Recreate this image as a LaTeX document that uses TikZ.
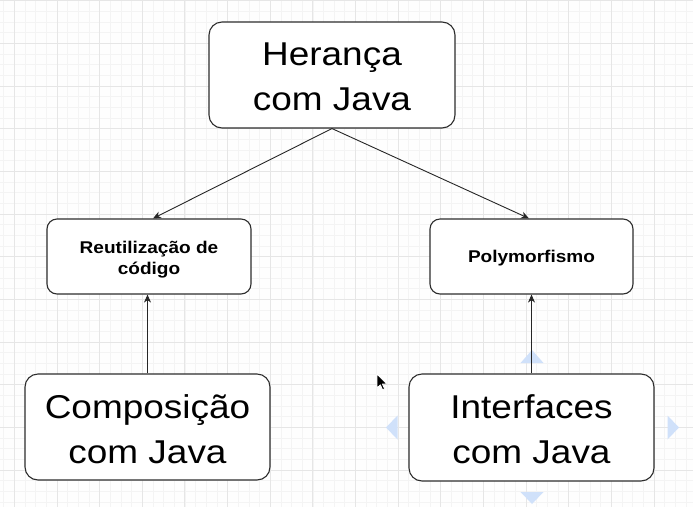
\documentclass[tikz,border=0pt]{standalone}
\usepackage{fontspec}
\setmainfont{Liberation Sans}[FakeStretch=1.12]
\usetikzlibrary{arrows.meta,calc}
\definecolor{minorgrid}{RGB}{244,244,244}
\definecolor{majorgrid}{RGB}{230,230,230}
\definecolor{hintblue}{RGB}{208,225,250}
\definecolor{boxline}{RGB}{45,45,45}
\begin{document}
\begin{tikzpicture}[x=1pt,y=-1pt,
  box/.style={draw=boxline, line width=1.1pt, fill=white, inner sep=0pt},
  bigbox/.style={box, rounded corners=13pt, minimum width=245pt, minimum height=106pt},
  smallbox/.style={box, rounded corners=10pt, minimum width=204pt, minimum height=75pt},
  label/.style={align=center, inner sep=0pt, text=black},
  bigtext/.style={label, font=\fontsize{33}{45}\selectfont},
  smalltext/.style={label, font=\bfseries\fontsize{17}{21.5}\selectfont},
  link/.style={draw=black!85, line width=0.9pt, -{Stealth[length=8pt,width=7pt,inset=2.5pt]}},
  hint/.style={fill=hintblue},
  minorline/.style={draw=minorgrid, line width=0.7pt},
  majorline/.style={draw=majorgrid, line width=0.9pt}]
% background and bounding box
\fill[white!99!gray] (0,0) rectangle (693,507);
\useasboundingbox (0,0) rectangle (693,507);
% grid
\foreach \k in {-1,...,64} {
  \draw[minorline] ({14.3+10.6625*\k},0) -- ({14.3+10.6625*\k},507);
}
\foreach \k in {0,...,47} {
  \draw[minorline] (0,{0.8+10.6625*\k}) -- (693,{0.8+10.6625*\k});
}
\foreach \k in {0,...,16} {
  \draw[majorline] ({14.3+42.65*\k},0) -- ({14.3+42.65*\k},507);
}
\foreach \k in {0,...,11} {
  \draw[majorline] (0,{0.8+42.65*\k}) -- (693,{0.8+42.65*\k});
}
% boxes
\node[bigbox, minimum width=246pt] (her) at (332,75) {};
\node[smallbox] (reu) at (149,256.5) {};
\node[smallbox, minimum width=203pt] (pol) at (531.5,256.5) {};
\node[bigbox] (com) at (147.5,427) {};
% hover hints around Interfaces
\fill[hint] (532,350) -- (520.5,363) -- (543.5,363) -- cycle;
\fill[hint] (386,427.5) -- (397.5,415.5) -- (397.5,439.5) -- cycle;
\fill[hint] (679,427.5) -- (667.5,415.5) -- (667.5,439.5) -- cycle;
\fill[hint] (532,504) -- (520.5,492) -- (543.5,492) -- cycle;
\node[bigbox, minimum height=107pt] (int) at (531.5,427.5) {};
% texts
\node[bigtext] (hert) at ([yshift=-2pt]her.center) {Herança\\com Java};
\node[smalltext] (reut) at ([yshift=-3pt]reu.center) {Reutilização de\\código};
\node[smalltext] (polt) at ([yshift=-2pt]pol.center) {Polymorfismo};
\node[bigtext] (comt) at ([yshift=-2pt]com.center) {Composição\\com Java};
\node[bigtext] (intt) at ([yshift=-2pt]int.center) {Interfaces\\com Java};
% connectors
\draw[link] (her.south) -- ([xshift=4pt]reu.north);
\draw[link] (her.south) -- ([xshift=-2.5pt]pol.north);
\draw[link] (com.north) -- (com.north |- reu.south);
\draw[link] (int.north) -- (int.north |- pol.south);
% mouse cursor
\filldraw[fill=black, draw=white, line width=0.8pt, line join=round]
  (377,374) -- ++(0,14) -- ++(3.3,-3.2) -- ++(2.3,5) -- ++(2,-0.9) -- ++(-2.2,-4.9) -- ++(4.4,0) -- cycle;
\end{tikzpicture}
\end{document}
